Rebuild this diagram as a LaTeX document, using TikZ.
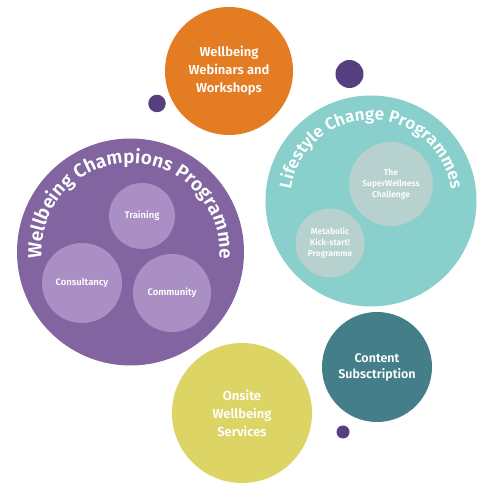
\documentclass[tikz,border=0pt]{standalone}
\usepackage{fontspec}
\setmainfont{Fira Sans}[BoldFont={Fira Sans SemiBold}]
\usetikzlibrary{decorations.text}
\definecolor{cOrange}{HTML}{E37C22}
\definecolor{cPurple}{HTML}{8265A0}
\definecolor{cPurpleL}{HTML}{A98FC4}
\definecolor{cTeal}{HTML}{89CFCB}
\definecolor{cTealL}{HTML}{B6D1CE}
\definecolor{cTealD}{HTML}{447F89}
\definecolor{cYellow}{HTML}{DCD465}
\definecolor{cDot}{HTML}{553F80}
\tikzset{
  blob/.style={circle, inner sep=0pt, text=white, align=center, font=\bfseries},
  dot/.style={circle, inner sep=0pt, fill=cDot}
}
\begin{document}
\begin{tikzpicture}[x=1pt,y=1pt]
\useasboundingbox (0,0) rectangle (500,500);
% small dots
\node[dot, minimum size=28pt] (d1) at (349.5,426) {};
\node[dot, minimum size=17.5pt] (d2) at (157,396.5) {};
\node[dot, minimum size=13pt] (d3) at (343,68) {};
% orange
\node[blob, fill=cOrange, minimum size=128pt, font=\bfseries\fontsize{13}{18}\selectfont] (web) at (229,429) {Wellbeing\\Webinars and\\Workshops};
% purple big
\node[blob, fill=cPurple, minimum size=227pt] (champ) at (130.5,248) {};
\node[blob, fill=cPurpleL, minimum size=66pt, font=\bfseries\fontsize{9.5}{11}\selectfont] (train) at (142,284) {Training};
\node[blob, fill=cPurpleL, minimum size=80pt, font=\bfseries\fontsize{9.5}{11}\selectfont] (cons) at (82,217) {Consultancy};
\node[blob, fill=cPurpleL, minimum size=78pt, font=\bfseries\fontsize{9.5}{11}\selectfont] (comm) at (172,207) {Community};
\path[decorate, decoration={text along path, text align=center, text color=white,
  text={|\bfseries\fontsize{19}{19}\selectfont|Wellbeing Champions Programme}}]
  (champ.center) ++(192:89) arc[start angle=192, end angle=-12, radius=89];
% teal big
\node[blob, fill=cTeal, minimum size=211pt] (life) at (371,299) {};
\node[blob, fill=cTealL, minimum size=84pt, font=\bfseries\fontsize{8.5}{11}\selectfont] (sw) at (391,316) {The\\SuperWellness\\Challenge};
\node[blob, fill=cTealL, minimum size=69pt, font=\bfseries\fontsize{8.5}{11}\selectfont] (meta) at (330,257) {Metabolic\\Kick-start!\\Programme};
\path[decorate, decoration={text along path, text align=center, text color=white,
  text={|\bfseries\fontsize{17}{17}\selectfont|Lifestyle Change Programmes}}]
  (life.center) ++(190:81) arc[start angle=190, end angle=-10, radius=81];
% dark teal
\node[blob, fill=cTealD, minimum size=110pt, font=\bfseries\fontsize{12.5}{16}\selectfont] (cont) at (377,133) {Content\\Subsctription};
% yellow
\node[blob, fill=cYellow, minimum size=140pt, font=\bfseries\fontsize{13}{18}\selectfont] (onsite) at (242,87) {Onsite\\Wellbeing\\Services};
\end{tikzpicture}
\end{document}
